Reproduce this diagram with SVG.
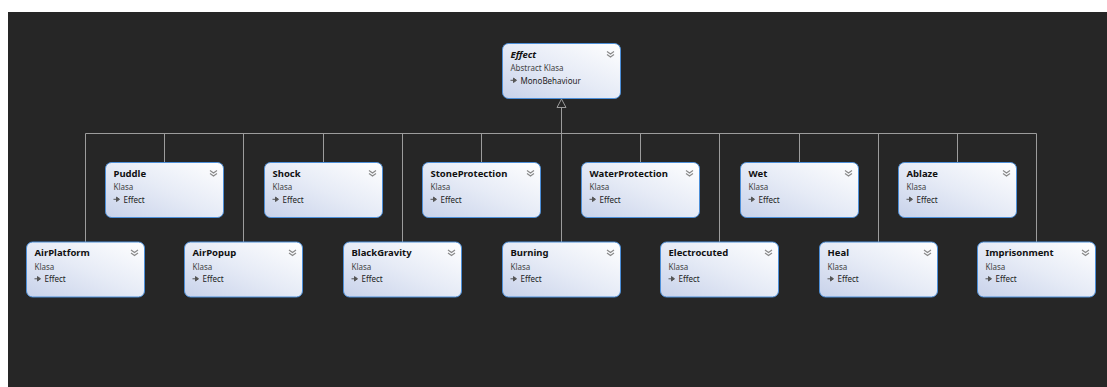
<svg xmlns="http://www.w3.org/2000/svg" width="1107" height="387" viewBox="0 0 1107 387">
<style>
.box{fill:url(#g);stroke:#4d8fd8;stroke-width:1}
.t{font-family:"Noto Sans","Open Sans",sans-serif;font-weight:bold;font-size:9.5px;fill:#111}
.ti{font-style:italic}
.s{font-family:"Noto Sans","Open Sans",sans-serif;font-size:8px;fill:#444}
.b{font-family:"Noto Sans","Open Sans",sans-serif;font-size:8px;fill:#222}
.chev{fill:none;stroke:#8a8a8a;stroke-width:1.2}
.arr{fill:#555;stroke:#555;stroke-width:1}
.con{fill:none;stroke:#9c9c9c;stroke-width:1}
</style>
<defs>
<linearGradient id="g" x1="0" y1="1" x2="1" y2="0">
<stop offset="0" stop-color="#c8d2ea"/>
<stop offset="0.5" stop-color="#e6ebf6"/>
<stop offset="1" stop-color="#ffffff"/>
</linearGradient>
<g id="chev"><path class="chev" d="M-3.5,0 L0,2.5 L3.5,0 M-3.5,3 L0,5.5 L3.5,3"/></g>
<g id="arrow"><path class="arr" d="M0,0 h3"/><path class="arr" d="M3,-2.2 L6,0 L3,2.2 Z" stroke-width="0.5"/></g>
</defs>
<rect width="1107" height="387" fill="#ffffff"/>
<rect x="8" y="12" width="1099" height="375" fill="#262626"/>

<g id="connectors">
<path class="con" d="M85.5,133.5 H1036.5"/>
<path class="con" d="M561.5,107.5 V133.5"/>
<path class="con" d="M561.5,99 L557,107.5 L566,107.5 Z" fill="#262626" stroke="#d0d0d0"/>
<path class="con" d="M85.5,133.5 V242 M164.5,133.5 V162.5 M243.5,133.5 V242 M323.5,133.5 V162.5 M402.5,133.5 V242 M481.5,133.5 V162.5 M561.5,133.5 V242 M640.5,133.5 V162.5 M719.5,133.5 V242 M799.5,133.5 V162.5 M878.5,133.5 V242 M957.5,133.5 V162.5 M1036.5,133.5 V242"/>
</g>

<g id="Effect" transform="translate(502.5,43.5)">
<rect class="box" width="118" height="55" rx="6"/>
<text class="t ti" x="8" y="14">Effect</text>
<text class="s" x="8" y="27.5">Abstract Klasa</text>
<use href="#arrow" x="8" y="36.8"/>
<text class="b" x="18" y="40">MonoBehaviour</text>
<use href="#chev" x="108" y="8"/>
</g>

<g id="Puddle" transform="translate(105.5,162.5)">
<rect class="box" width="118" height="55" rx="6"/>
<text class="t" x="8" y="14">Puddle</text>
<text class="s" x="8" y="27.5">Klasa</text>
<use href="#arrow" x="8" y="36.8"/>
<text class="b" x="18" y="40">Effect</text>
<use href="#chev" x="108" y="8"/>
</g>

<g id="Shock" transform="translate(264.5,162.5)">
<rect class="box" width="118" height="55" rx="6"/>
<text class="t" x="8" y="14">Shock</text>
<text class="s" x="8" y="27.5">Klasa</text>
<use href="#arrow" x="8" y="36.8"/>
<text class="b" x="18" y="40">Effect</text>
<use href="#chev" x="108" y="8"/>
</g>

<g id="StoneProtection" transform="translate(422.5,162.5)">
<rect class="box" width="118" height="55" rx="6"/>
<text class="t" x="8" y="14">StoneProtection</text>
<text class="s" x="8" y="27.5">Klasa</text>
<use href="#arrow" x="8" y="36.8"/>
<text class="b" x="18" y="40">Effect</text>
<use href="#chev" x="108" y="8"/>
</g>

<g id="WaterProtection" transform="translate(581.5,162.5)">
<rect class="box" width="118" height="55" rx="6"/>
<text class="t" x="8" y="14">WaterProtection</text>
<text class="s" x="8" y="27.5">Klasa</text>
<use href="#arrow" x="8" y="36.8"/>
<text class="b" x="18" y="40">Effect</text>
<use href="#chev" x="108" y="8"/>
</g>

<g id="Wet" transform="translate(740.5,162.5)">
<rect class="box" width="118" height="55" rx="6"/>
<text class="t" x="8" y="14">Wet</text>
<text class="s" x="8" y="27.5">Klasa</text>
<use href="#arrow" x="8" y="36.8"/>
<text class="b" x="18" y="40">Effect</text>
<use href="#chev" x="108" y="8"/>
</g>

<g id="Ablaze" transform="translate(898.5,162.5)">
<rect class="box" width="118" height="55" rx="6"/>
<text class="t" x="8" y="14">Ablaze</text>
<text class="s" x="8" y="27.5">Klasa</text>
<use href="#arrow" x="8" y="36.8"/>
<text class="b" x="18" y="40">Effect</text>
<use href="#chev" x="108" y="8"/>
</g>

<g id="AirPlatform" transform="translate(26.5,242)">
<rect class="box" width="118" height="55" rx="6"/>
<text class="t" x="8" y="14">AirPlatform</text>
<text class="s" x="8" y="27.5">Klasa</text>
<use href="#arrow" x="8" y="36.8"/>
<text class="b" x="18" y="40">Effect</text>
<use href="#chev" x="108" y="8"/>
</g>

<g id="AirPopup" transform="translate(184.5,242)">
<rect class="box" width="118" height="55" rx="6"/>
<text class="t" x="8" y="14">AirPopup</text>
<text class="s" x="8" y="27.5">Klasa</text>
<use href="#arrow" x="8" y="36.8"/>
<text class="b" x="18" y="40">Effect</text>
<use href="#chev" x="108" y="8"/>
</g>

<g id="BlackGravity" transform="translate(343.5,242)">
<rect class="box" width="118" height="55" rx="6"/>
<text class="t" x="8" y="14">BlackGravity</text>
<text class="s" x="8" y="27.5">Klasa</text>
<use href="#arrow" x="8" y="36.8"/>
<text class="b" x="18" y="40">Effect</text>
<use href="#chev" x="108" y="8"/>
</g>

<g id="Burning" transform="translate(502.5,242)">
<rect class="box" width="118" height="55" rx="6"/>
<text class="t" x="8" y="14">Burning</text>
<text class="s" x="8" y="27.5">Klasa</text>
<use href="#arrow" x="8" y="36.8"/>
<text class="b" x="18" y="40">Effect</text>
<use href="#chev" x="108" y="8"/>
</g>

<g id="Electrocuted" transform="translate(660.5,242)">
<rect class="box" width="118" height="55" rx="6"/>
<text class="t" x="8" y="14">Electrocuted</text>
<text class="s" x="8" y="27.5">Klasa</text>
<use href="#arrow" x="8" y="36.8"/>
<text class="b" x="18" y="40">Effect</text>
<use href="#chev" x="108" y="8"/>
</g>

<g id="Heal" transform="translate(819.5,242)">
<rect class="box" width="118" height="55" rx="6"/>
<text class="t" x="8" y="14">Heal</text>
<text class="s" x="8" y="27.5">Klasa</text>
<use href="#arrow" x="8" y="36.8"/>
<text class="b" x="18" y="40">Effect</text>
<use href="#chev" x="108" y="8"/>
</g>

<g id="Imprisonment" transform="translate(977.5,242)">
<rect class="box" width="118" height="55" rx="6"/>
<text class="t" x="8" y="14">Imprisonment</text>
<text class="s" x="8" y="27.5">Klasa</text>
<use href="#arrow" x="8" y="36.8"/>
<text class="b" x="18" y="40">Effect</text>
<use href="#chev" x="108" y="8"/>
</g>
</svg>
